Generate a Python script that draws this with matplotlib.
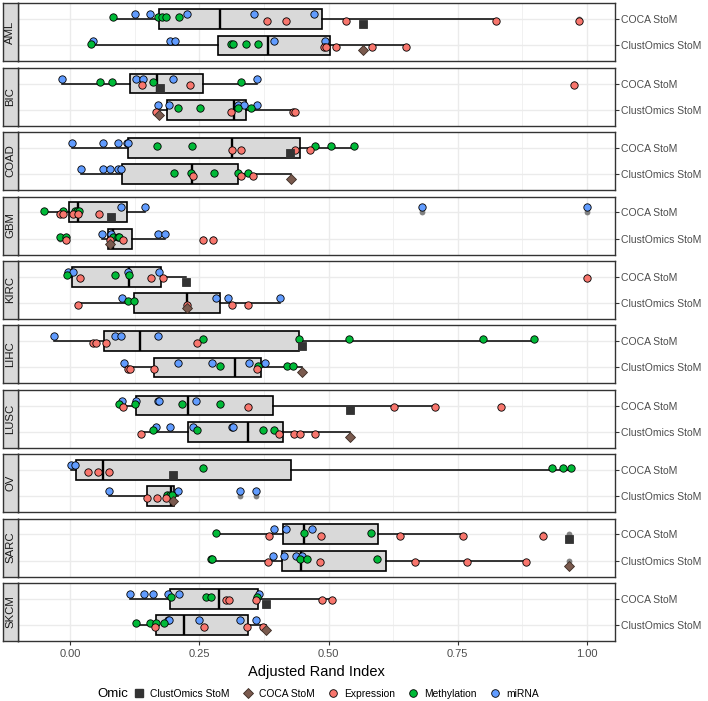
import matplotlib
matplotlib.use("Agg")
import matplotlib.pyplot as plt
from matplotlib.lines import Line2D

plt.rcParams['font.family'] = ['Liberation Sans', 'DejaVu Sans']

cancers = ["AML", "BIC", "COAD", "GBM", "KIRC", "LIHC", "LUSC", "OV", "SARC", "SKCM"]
row_labels = ["ClustOmics StoM", "COCA StoM"]   # bottom, top
x_ticks = [0.0, 0.25, 0.5, 0.75, 1.0]
x_tick_labels = ["0.00", "0.25", "0.50", "0.75", "1.00"]

# ---- points in the "COCA StoM" row ----
expression_coca = {
    "AML": [0.381, 0.417, 0.534, 0.824, 0.985],
    "BIC": [0.139, 0.232, 0.975],
    "COAD": [0.314, 0.331, 0.436, 0.465],
    "GBM": [-0.020, -0.013, 0.005, 0.016, 0.057],
    "KIRC": [0.020, 0.157, 0.180, 1.0],
    "LIHC": [0.045, 0.051, 0.070, 0.245],
    "LUSC": [0.102, 0.344, 0.626, 0.706, 0.833],
    "OV": [0.035, 0.055, 0.076],
    "SARC": [0.385, 0.486, 0.639, 0.760, 0.915],
    "SKCM": [0.302, 0.307, 0.359, 0.488, 0.507],
}
methylation_coca = {
    "AML": [0.083, 0.170, 0.177, 0.185, 0.211],
    "BIC": [0.058, 0.082, 0.161, 0.330],
    "COAD": [0.168, 0.235, 0.473, 0.504, 0.550],
    "GBM": [-0.050, -0.014, 0.009, 0.013, 0.018],
    "KIRC": [-0.006, 0.088, 0.115],
    "LIHC": [0.257, 0.442, 0.539, 0.799, 0.898],
    "LUSC": [0.094, 0.125, 0.216, 0.290],
    "OV": [0.258, 0.933, 0.953, 0.968],
    "SARC": [0.283, 0.452, 0.582],
    "SKCM": [0.195, 0.264, 0.272, 0.362],
}
mirna_coca = {
    "AML": [0.126, 0.155, 0.227, 0.356, 0.471],
    "BIC": [-0.016, 0.128, 0.142, 0.199, 0.362],
    "COAD": [0.004, 0.063, 0.092, 0.111, 0.113],
    "GBM": [0.099, 0.145, 0.681, 1.0],
    "KIRC": [-0.004, 0.006, 0.112, 0.172],
    "LIHC": [-0.031, 0.088, 0.099, 0.170],
    "LUSC": [0.100, 0.128, 0.170, 0.173, 0.244],
    "OV": [0.001, 0.010],
    "SARC": [0.394, 0.418, 0.468],
    "SKCM": [0.116, 0.144, 0.161, 0.190, 0.211, 0.366],
}
clustomics_stom = {  # shown in the COCA StoM row
    "AML": 0.567, "BIC": 0.174, "COAD": 0.425, "GBM": 0.079, "KIRC": 0.225,
    "LIHC": 0.449, "LUSC": 0.541, "OV": 0.200, "SARC": 0.966, "SKCM": 0.379,
}

# ---- points in the "ClustOmics StoM" row ----
expression_clust = {
    "AML": [0.491, 0.496, 0.514, 0.584, 0.650],
    "BIC": [0.166, 0.312, 0.432, 0.436],
    "COAD": [0.237, 0.331, 0.353],
    "GBM": [-0.008, 0.077, 0.102, 0.258, 0.276],
    "KIRC": [0.015, 0.227, 0.314, 0.344],
    "LIHC": [0.112, 0.116, 0.162, 0.362],
    "LUSC": [0.138, 0.404, 0.433, 0.445, 0.474],
    "OV": [0.148, 0.169, 0.186],
    "SARC": [0.382, 0.484, 0.667, 0.767, 0.881],
    "SKCM": [0.164, 0.259, 0.343, 0.373],
}
methylation_clust = {
    "AML": [0.041, 0.312, 0.316, 0.341, 0.364],
    "BIC": [0.209, 0.251, 0.324, 0.350],
    "COAD": [0.202, 0.234, 0.279, 0.324, 0.344],
    "GBM": [-0.020, -0.008, 0.084, 0.092, 0.095],
    "KIRC": [0.112, 0.124],
    "LIHC": [0.291, 0.364, 0.419, 0.432],
    "LUSC": [0.161, 0.245, 0.373, 0.395],
    "OV": [0.188, 0.194, 0.197],
    "SARC": [0.273, 0.275, 0.445, 0.459, 0.593],
    "SKCM": [0.127, 0.155, 0.167, 0.182],
}
mirna_clust = {
    "AML": [0.045, 0.194, 0.203, 0.394, 0.493],
    "BIC": [0.170, 0.192, 0.324, 0.336, 0.362],
    "COAD": [0.022, 0.064, 0.077, 0.093, 0.099],
    "GBM": [0.062, 0.079, 0.171, 0.184],
    "KIRC": [0.100, 0.283, 0.305, 0.407],
    "LIHC": [0.105, 0.209, 0.275, 0.347, 0.377],
    "LUSC": [0.166, 0.193, 0.238, 0.314, 0.316],
    "OV": [0.075, 0.208, 0.329, 0.360],
    "SARC": [0.392, 0.414, 0.438, 0.449],
    "SKCM": [0.189, 0.192, 0.250, 0.329, 0.359],
}
coca_stom = {  # shown in the ClustOmics StoM row
    "AML": 0.567, "BIC": 0.173, "COAD": 0.427, "GBM": 0.077, "KIRC": 0.227,
    "LIHC": 0.449, "LUSC": 0.541, "OV": 0.200, "SARC": 0.966, "SKCM": 0.379,
}

# ---- box statistics: (whislo, q1, med, q3, whishi) ----
box_coca = {
    "AML": (0.083, 0.172, 0.291, 0.487, 0.824),
    "BIC": (-0.016, 0.117, 0.168, 0.258, 0.362),
    "COAD": (0.004, 0.112, 0.314, 0.445, 0.550),
    "GBM": (-0.050, -0.001, 0.015, 0.111, 0.145),
    "KIRC": (-0.006, 0.004, 0.114, 0.176, 0.225),
    "LIHC": (-0.031, 0.065, 0.136, 0.443, 0.898),
    "LUSC": (0.094, 0.127, 0.229, 0.392, 0.706),
    "OV": (0.001, 0.011, 0.064, 0.427, 0.968),
    "SARC": (0.283, 0.412, 0.452, 0.595, 0.760),
    "SKCM": (0.116, 0.194, 0.288, 0.364, 0.507),
}
box_clust = {
    "AML": (0.041, 0.287, 0.382, 0.502, 0.650),
    "BIC": (0.166, 0.187, 0.318, 0.340, 0.436),
    "COAD": (0.022, 0.100, 0.236, 0.325, 0.427),
    "GBM": (0.062, 0.074, 0.084, 0.119, 0.184),
    "KIRC": (0.015, 0.124, 0.227, 0.290, 0.407),
    "LIHC": (0.105, 0.163, 0.320, 0.369, 0.449),
    "LUSC": (0.138, 0.228, 0.345, 0.412, 0.541),
    "OV": (0.075, 0.148, 0.196, 0.202, 0.208),
    "SARC": (0.273, 0.410, 0.447, 0.611, 0.881),
    "SKCM": (0.126, 0.167, 0.221, 0.344, 0.379),
}

# ---- styling ----
C_EXPR = "#F8766D"
C_METH = "#00BA38"
C_MIRNA = "#619CFF"
C_SQ = "#333333"
C_DIA = "#7A5A4E"
OFF = {"mirna": 0.1875, "meth": 0.0625, "expr": -0.0625, "mark": -0.1875}

W, H = 708, 701
fig = plt.figure(figsize=(W / 100, H / 100), dpi=100)
fig.patch.set_facecolor("white")

left_px, right_px = 17.5, 615.0
top0, pitch, ph = 3.3, 64.4, 58.0
xlim = (-0.1015, 1.054)
grid_c = "#EBEBEB"
border_c = "#333333"
MS = 5.3

def pt(ax, vals, y, color, marker="o", ms=MS, z=4):
    ax.plot(vals, [y] * len(vals), linestyle="none", marker=marker, ms=ms,
            mfc=color, mec="black", mew=0.6, zorder=z)

for i, c in enumerate(cancers):
    top = top0 + i * pitch
    rect = [left_px / W, 1 - (top + ph) / H, (right_px - left_px) / W, ph / H]
    ax = fig.add_axes(rect)
    ax.set_facecolor("white")

    # rows
    for y, box, expr, meth, mir, mark, mshape, mcol in [
        (2, box_coca[c], expression_coca[c], methylation_coca[c], mirna_coca[c],
         clustomics_stom[c], "s", C_SQ),
        (1, box_clust[c], expression_clust[c], methylation_clust[c], mirna_clust[c],
         coca_stom[c], "D", C_DIA),
    ]:
        lo, q1, med, q3, hi = box
        ax.bxp([{"whislo": lo, "q1": q1, "med": med, "q3": q3, "whishi": hi, "fliers": []}],
               positions=[y], widths=0.75, orientation="horizontal", showcaps=False,
               showfliers=False, patch_artist=True, manage_ticks=False,
               boxprops=dict(facecolor="#D9D9D9", edgecolor="black", lw=1.2),
               whiskerprops=dict(color="black", lw=1.1),
               medianprops=dict(color="black", lw=1.7), zorder=2)
        allv = list(expr) + list(meth) + list(mir) + [mark]
        outl = [v for v in allv if v < lo - 1e-6 or v > hi + 1e-6]
        if outl:
            ax.plot(outl, [y] * len(outl), linestyle="none", marker="o", ms=4.2,
                    mfc="#6E6E6E", mec="none", alpha=0.85, zorder=3)
        pt(ax, mir, y + OFF["mirna"], C_MIRNA)
        pt(ax, meth, y + OFF["meth"], C_METH)
        pt(ax, expr, y + OFF["expr"], C_EXPR)
        ax.plot([mark], [y + OFF["mark"]], linestyle="none", marker=mshape,
                ms=5.2 if mshape == "s" else 5.0, mfc=mcol,
                mec=mcol if mshape == "s" else "#3a2a22", mew=0.6, zorder=4)

    ax.set_xlim(*xlim)
    ax.set_ylim(0.4, 2.6)
    for s in ax.spines.values():
        s.set_color(border_c)
        s.set_linewidth(1.0)
    ax.set_xticks(x_ticks)
    ax.set_xticks([0.125, 0.375, 0.625, 0.875], minor=True)
    ax.set_yticks([1, 2])
    ax.set_yticklabels(row_labels, fontsize=7.5, color="#4D4D4D")
    ax.yaxis.tick_right()
    ax.tick_params(axis="y", which="major", length=3, width=0.8, color=border_c, pad=1.5)
    ax.grid(True, which="major", color=grid_c, lw=1.0, zorder=0)
    ax.grid(True, which="minor", axis="x", color=grid_c, lw=0.5, zorder=0)
    ax.set_axisbelow(True)
    if i == len(cancers) - 1:
        ax.set_xticklabels(x_tick_labels, fontsize=8.0, color="#4D4D4D")
        ax.tick_params(axis="x", which="major", length=3, width=0.8, color=border_c, pad=3)
        ax.tick_params(axis="x", which="minor", length=0)
        ax.set_xlabel("Adjusted Rand Index", fontsize=10.5, labelpad=4)
    else:
        ax.tick_params(axis="x", which="both", length=0, labelbottom=False)

    # strip
    sax = fig.add_axes([2.5 / W, rect[1], (left_px - 2.5) / W, rect[3]])
    sax.set_facecolor("#D9D9D9")
    sax.set_xticks([]); sax.set_yticks([])
    for s in sax.spines.values():
        s.set_color(border_c)
        s.set_linewidth(1.0)
    sax.text(0.5, 0.5, c, rotation=90, ha="center", va="center",
             fontsize=8.2, color="#1A1A1A", transform=sax.transAxes)

# legend
handles = [
    Line2D([], [], linestyle="none", marker="s", ms=5.5, mfc=C_SQ, mec=C_SQ),
    Line2D([], [], linestyle="none", marker="D", ms=5.2, mfc=C_DIA, mec="#3a2a22", mew=0.6),
    Line2D([], [], linestyle="none", marker="o", ms=5.5, mfc=C_EXPR, mec="black", mew=0.6),
    Line2D([], [], linestyle="none", marker="o", ms=5.5, mfc=C_METH, mec="black", mew=0.6),
    Line2D([], [], linestyle="none", marker="o", ms=5.5, mfc=C_MIRNA, mec="black", mew=0.6),
]
labels = ["ClustOmics StoM", "COCA StoM", "Expression", "Methylation", "miRNA"]
leg_y = 1 - 694 / H
fig.legend(handles, labels, loc="center left", bbox_to_anchor=(134 / W, leg_y),
           ncol=5, frameon=False, fontsize=7.4, handlelength=1.0,
           handletextpad=0.55, columnspacing=1.3, borderpad=0, borderaxespad=0)
fig.text(97 / W, leg_y, "Omic", fontsize=9.5, va="center", ha="left")

fig.savefig("out.png", dpi=100, facecolor="white")
